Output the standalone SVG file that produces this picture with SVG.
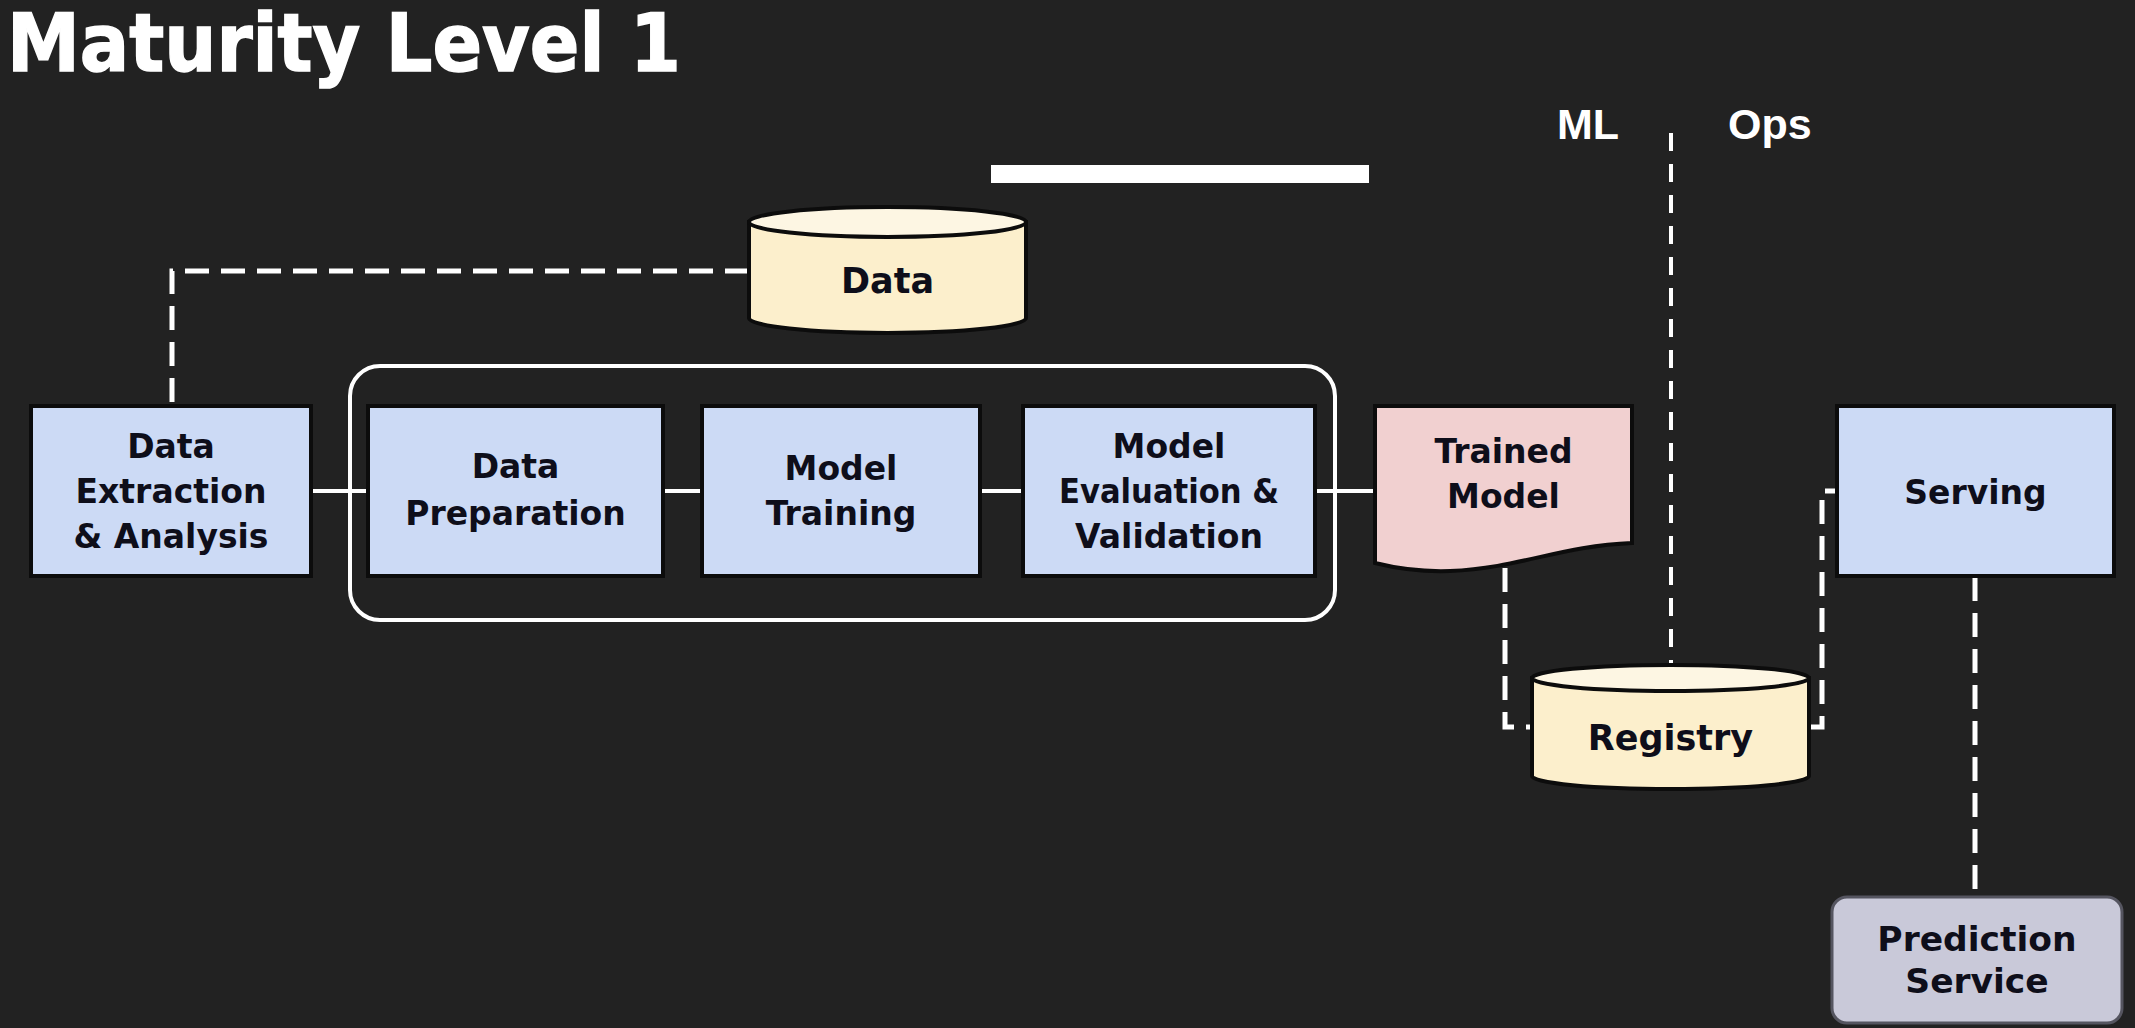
<svg xmlns="http://www.w3.org/2000/svg" width="2135" height="1028" viewBox="0 0 2135 1028">
<style>
.bg{fill:#222222}
.box{fill:#ccdaf5;stroke:#0c0c0c;stroke-width:4}
.cyl{fill:#fcefcc;stroke:#0c0c0c;stroke-width:4}
.cyltop{fill:#fdf6e3;stroke:#0c0c0c;stroke-width:4}
.doc{fill:#f1d0d0;stroke:#0c0c0c;stroke-width:4}
.pred{fill:#c9c9d9;stroke:#555560;stroke-width:3}
.lbl{font-family:"DejaVu Sans",sans-serif;font-weight:bold;font-size:33px;fill:#0e0e1a;text-anchor:middle}
.big{font-size:35px}
.pl{font-size:34.5px}
.title{font-family:"DejaVu Sans",sans-serif;font-weight:bold;font-size:80px;fill:#ffffff;stroke:#ffffff;stroke-width:1.5}
.side{font-family:"Liberation Sans",Arial,sans-serif;font-weight:bold;font-size:43px;fill:#ffffff}
.solid{stroke:#ffffff;stroke-width:4;fill:none}
.dash{stroke:#ffffff;stroke-width:5;fill:none;stroke-dasharray:24 12}
.divider{stroke:#ffffff;stroke-width:4;fill:none;stroke-dasharray:18 13}
.group{fill:none;stroke:#ffffff;stroke-width:4}
</style>
<rect class="bg" x="0" y="0" width="2135" height="1028"/>
<text class="title" x="7" y="71" textLength="674" lengthAdjust="spacingAndGlyphs">Maturity Level 1</text>
<rect x="991" y="165" width="378" height="18" fill="#ffffff"/>
<text class="side" x="1557" y="139">ML</text>
<text class="side" x="1728" y="139">Ops</text>

<g id="connectors">
<line class="divider" x1="1671" y1="133" x2="1671" y2="665"/>
<path class="dash" d="M749,271 H172 V404"/>
<line class="solid" x1="311" y1="491" x2="368" y2="491"/>
<line class="solid" x1="663" y1="491" x2="702" y2="491"/>
<line class="solid" x1="980" y1="491" x2="1023" y2="491"/>
<line class="solid" x1="1315" y1="491" x2="1375" y2="491"/>
<path class="dash" d="M1505,568 V727 H1532"/>
<path class="dash" d="M1809,727 H1822 V491 H1837"/>
<line class="dash" x1="1975" y1="577" x2="1975" y2="897"/>
</g>

<rect id="stage-group" class="group" x="350" y="366" width="985" height="254" rx="30" ry="30"/>

<g id="data">
<path class="cyl" d="M749,222 V318 A138.5,15 0 0 0 1026,318 V222 Z"/>
<ellipse class="cyltop" cx="887.5" cy="222" rx="138.5" ry="15"/>
<text class="lbl big" x="887.5" y="293">Data</text>
</g>

<g id="data-extraction">
<rect class="box" x="31" y="406" width="280" height="170"/>
<text class="lbl" x="171" y="458">Data</text>
<text class="lbl" x="171" y="503">Extraction</text>
<text class="lbl" x="171" y="548">&amp; Analysis</text>
</g>

<g id="data-preparation">
<rect class="box" x="368" y="406" width="295" height="170"/>
<text class="lbl" x="515.5" y="478">Data</text>
<text class="lbl" x="515.5" y="525">Preparation</text>
</g>

<g id="model-training">
<rect class="box" x="702" y="406" width="278" height="170"/>
<text class="lbl" x="841" y="480">Model</text>
<text class="lbl" x="841" y="525">Training</text>
</g>

<g id="model-evaluation">
<rect class="box" x="1023" y="406" width="292" height="170"/>
<text class="lbl" x="1169" y="458">Model</text>
<text class="lbl" x="1169" y="503" textLength="220" lengthAdjust="spacingAndGlyphs">Evaluation &amp;</text>
<text class="lbl" x="1169" y="548">Validation</text>
</g>

<g id="trained-model">
<path class="doc" d="M1375,406 H1632 V543 C1560,546 1520,568 1450,571 C1420,572 1395,568 1375,563 Z"/>
<text class="lbl" x="1503.5" y="463">Trained</text>
<text class="lbl" x="1503.5" y="508">Model</text>
</g>

<g id="registry">
<path class="cyl" d="M1532,678 V776 A138.5,13 0 0 0 1809,776 V678 Z"/>
<ellipse class="cyltop" cx="1670.5" cy="678" rx="138.5" ry="13"/>
<text class="lbl big" x="1670.5" y="750">Registry</text>
</g>

<g id="serving">
<rect class="box" x="1837" y="406" width="277" height="170"/>
<text class="lbl" x="1975.5" y="504">Serving</text>
</g>

<g id="prediction-service">
<rect class="pred" x="1832" y="897" width="290" height="126" rx="15" ry="15"/>
<text class="lbl pl" x="1977" y="951">Prediction</text>
<text class="lbl pl" x="1977" y="993">Service</text>
</g>
</svg>
